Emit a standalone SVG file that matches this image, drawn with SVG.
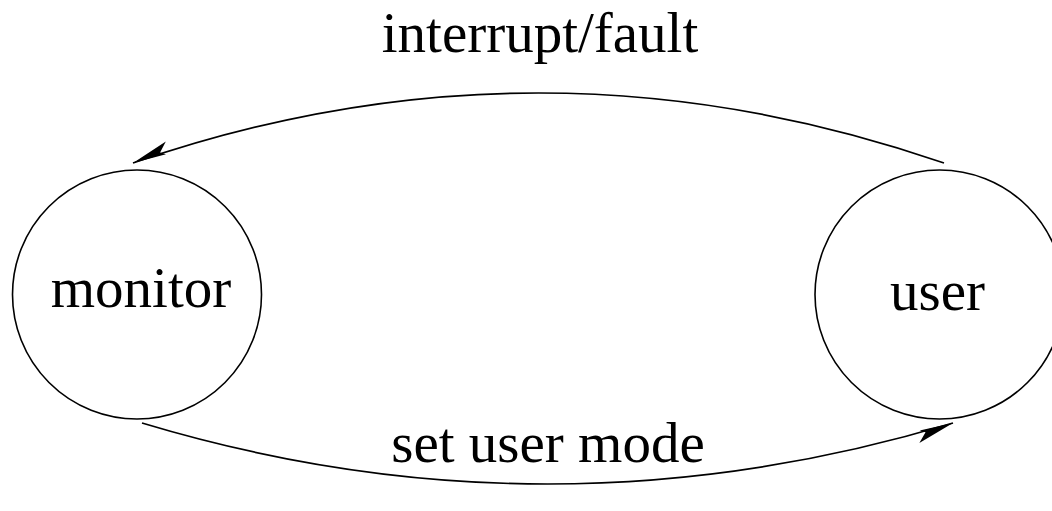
<svg xmlns="http://www.w3.org/2000/svg" width="1052" height="511" viewBox="0 0 1052 511">
  <style>
    .node { fill: none; stroke: #000; stroke-width: 1.6; }
    .lbl { font-family: "Liberation Serif", "Times New Roman", serif; font-size: 57px; fill: #000; text-anchor: middle; }
    .edge { fill: none; stroke: #000; stroke-width: 1.7; }
  </style>
  <defs>
    <marker id="arrow" markerUnits="userSpaceOnUse" markerWidth="48" markerHeight="28" viewBox="-42 -14 48 28" refX="0" refY="0" orient="auto">
      <path d="M0,0 L-38,9.5 L-29,1 L-34,-2.5 Z" fill="#000"/>
    </marker>
  </defs>
  <rect width="1052" height="511" fill="#fff"/>
  <g id="monitor">
    <circle class="node" cx="137" cy="294.5" r="124.5"/>
    <text class="lbl" x="141" y="307">monitor</text>
  </g>
  <g id="user">
    <circle class="node" cx="939.5" cy="294.5" r="124.5"/>
    <text class="lbl" x="937.5" y="310">user</text>
  </g>
  <g id="connectors">
    <path class="edge" d="M944,163 Q538.5,23 133,163" marker-end="url(#arrow)"/>
    <path class="edge" d="M142,423 Q547.5,545 953,423" marker-end="url(#arrow)"/>
    <text class="lbl" x="540" y="52">interrupt/fault</text>
    <text class="lbl" x="548" y="462">set user mode</text>
  </g>
</svg>
